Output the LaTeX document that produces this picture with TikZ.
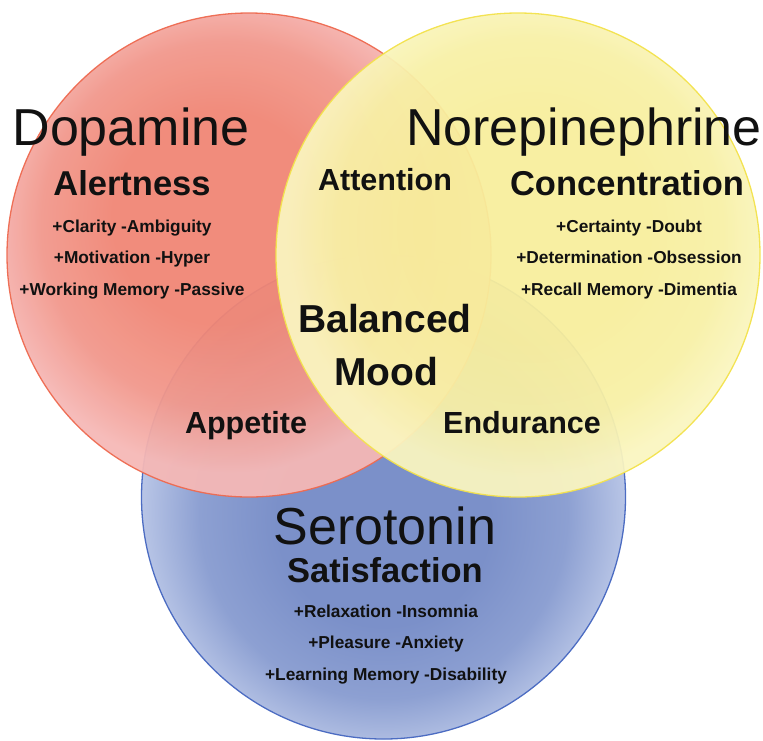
\documentclass[tikz,border=0pt]{standalone}
\usepackage{fontspec}
\setmainfont{Liberation Sans}
\definecolor{redin}{HTML}{F08675}
\definecolor{redmid}{HTML}{F1988C}
\definecolor{redout}{HTML}{F5B8B6}
\definecolor{redline}{HTML}{EE6A50}
\definecolor{yelin}{HTML}{F8EE9C}
\definecolor{yelmid}{HTML}{F8F0A6}
\definecolor{yelout}{HTML}{FAF5C0}
\definecolor{yelline}{HTML}{F3E24C}
\definecolor{bluein}{HTML}{7B90C9}
\definecolor{bluemid}{HTML}{8DA0D2}
\definecolor{blueout}{HTML}{B8C5E6}
\definecolor{blueline}{HTML}{4C6CC2}
\definecolor{ink}{HTML}{111111}
\pgfdeclareradialshading{redshade}{\pgfpoint{-4bp}{5bp}}{color(0bp)=(redin); color(11bp)=(redin); color(19bp)=(redmid); color(25bp)=(redout); color(50bp)=(redout)}
\pgfdeclareradialshading{yelshade}{\pgfpoint{2bp}{4bp}}{color(0bp)=(yelin); color(12bp)=(yelin); color(20bp)=(yelmid); color(25bp)=(yelout); color(50bp)=(yelout)}
\pgfdeclareradialshading{blueshade}{\pgfpoint{0bp}{-3bp}}{color(0bp)=(bluein); color(11bp)=(bluein); color(19bp)=(bluemid); color(25bp)=(blueout); color(50bp)=(blueout)}
\tikzset{
  disc/.style={circle, inner sep=0pt, minimum size=484pt, line width=1.3pt},
  bigname/.style={anchor=base, text=ink, font=\fontsize{52}{60}\selectfont},
  header/.style={anchor=base, text=ink, font=\bfseries\fontsize{34.5}{40}\selectfont},
  mid/.style={anchor=base, text=ink, font=\bfseries\fontsize{30.5}{36}\selectfont},
  center/.style={anchor=base, text=ink, font=\bfseries\fontsize{39}{45}\selectfont},
  item/.style={anchor=base, text=ink, font=\bfseries\fontsize{17.3}{20}\selectfont},
}
\begin{document}
\begin{tikzpicture}[x=1pt,y=-1pt]
\useasboundingbox (0,0) rectangle (763,740);
% circles
\node[disc, draw=blueline, shading=blueshade] (sero) at (383.5,497) {};
\node[disc, draw=redline, shading=redshade, fill opacity=0.95, draw opacity=0.95] (dopa) at (249,255) {};
\node[disc, draw=yelline, shading=yelshade, fill opacity=0.94, draw opacity=0.95] (nore) at (518,255) {};
% Dopamine
\node[bigname] (tdop) at (131,145) {Dopamine};
\node[header] (talert) at (132,195) {Alertness};
\node[item] (d1) at (132,232) {+Clarity -Ambiguity};
\node[item] (d2) at (132,263) {+Motivation -Hyper};
\node[item] (d3) at (132,295) {+Working Memory -Passive};
% Norepinephrine
\node[bigname] (tnor) at (584,145) {Norepinephrine};
\node[header] (tconc) at (627,195) {Concentration};
\node[item] (n1) at (629,232) {+Certainty -Doubt};
\node[item] (n2) at (629,263) {+Determination -Obsession};
\node[item] (n3) at (629,295) {+Recall Memory -Dimentia};
% overlaps
\node[mid] (tatt) at (385,190) {Attention};
\node[center] (tbal) at (385,332) {Balanced};
\node[center] (tmood) at (386,385) {Mood};
\node[mid] (tapp) at (246,433) {Appetite};
\node[mid] (tend) at (522,433) {Endurance};
% Serotonin
\node[bigname] (tser) at (385,544) {Serotonin};
\node[header] (tsat) at (385,582) {Satisfaction};
\node[item] (s1) at (386,617) {+Relaxation -Insomnia};
\node[item] (s2) at (386,648) {+Pleasure -Anxiety};
\node[item] (s3) at (386,680) {+Learning Memory -Disability};
\end{tikzpicture}
\end{document}
